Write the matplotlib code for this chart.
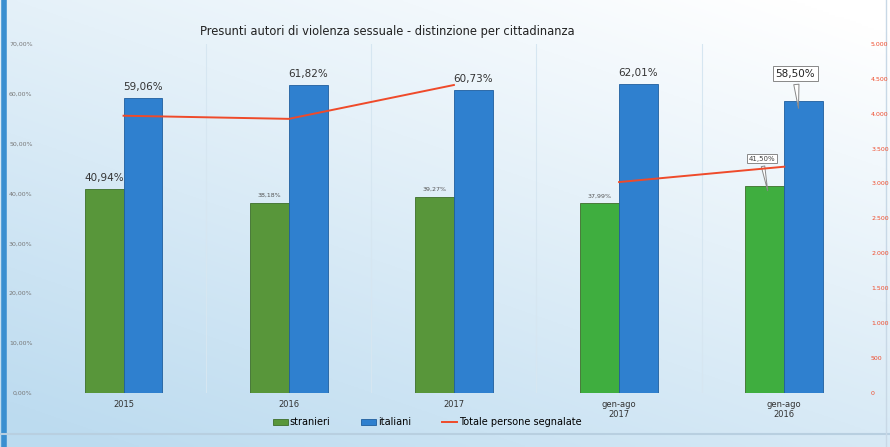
import numpy as np
import matplotlib.pyplot as plt
from matplotlib.ticker import FuncFormatter, MultipleLocator

categories = ["2015", "2016", "2017", "gen-ago\n2017", "gen-ago\n2016"]
stranieri = [40.94, 38.18, 39.27, 37.99, 41.50]
italiani = [59.06, 61.82, 60.73, 62.01, 58.50]
totale = [3970, 3925, 4410, 3020, 3240]

green_dark = "#58963a"
green_light = "#3fae3f"
blue = "#2f80cf"
red = "#ef4a2a"

fig = plt.figure(figsize=(8.9, 4.47), dpi=100)

# soft blue background wash
bg = fig.add_axes([0, 0, 1, 1], zorder=-10)
yy, xx = np.mgrid[0:1:200j, 0:1:300j]
t = np.clip(0.65 * yy + 0.45 * (1 - xx) - 0.05, 0, 1)
top = np.array([1.0, 1.0, 1.0])
bot = np.array([0.74, 0.86, 0.94])
img = top + (bot - top) * t[..., None]
bg.imshow(img, extent=[0, 1, 0, 1], aspect="auto", origin="upper")
bg.axvline(0.004, color="#3a8fd0", lw=4)
bg.axhline(0.03, color="#b8cfe0", lw=1.5)
bg.axvline(0.996, color="#c8d8e6", lw=1)
bg.set_axis_off()

ax = fig.add_axes([0.046, 0.121, 0.928, 0.781])
ax.set_facecolor("none")
x = np.arange(len(categories))
w = 0.235

g_colors = [green_dark] * 3 + [green_light] * 2
bars_s = ax.bar(x - w / 2, stranieri, w, color=g_colors, edgecolor="#3d6e2a",
                linewidth=0.6, label="stranieri", zorder=3)
bars_i = ax.bar(x + w / 2, italiani, w, color=blue, edgecolor="#1f5e9e",
                linewidth=0.6, label="italiani", zorder=3)

ax.set_xlim(-0.5, len(categories) - 0.5)
ax.set_ylim(0, 70)
ax.yaxis.set_major_locator(MultipleLocator(10))
ax.yaxis.set_major_formatter(FuncFormatter(lambda v, p: f"{v:.2f}%".replace(".", ",")))
ax.tick_params(axis="y", labelsize=4.5, colors="#777777", length=0, pad=6)
ax.tick_params(axis="x", labelsize=6, colors="#333333", length=0, pad=5)
ax.set_xticks(x)
ax.set_xticklabels(categories)
for s in ax.spines.values():
    s.set_visible(False)
for b in np.arange(0.5, len(categories) - 0.5, 1):
    ax.axvline(b, color="#d6e6f1", lw=0.8, zorder=1)


def pct(v):
    return f"{v:.2f}%".replace(".", ",")


# value labels
big = {(0, 0), (0, 1), (1, 1), (2, 1), (3, 1)}
for i in range(len(categories)):
    for j, (vals, off) in enumerate(((stranieri, -w / 2), (italiani, w / 2))):
        v = vals[i]
        if i == 4:
            continue
        if (i, j) in big:
            ax.text(x[i] + off, v + 1.2, pct(v), ha="center", va="bottom",
                    fontsize=7.5, color="#333333", zorder=5)
        else:
            ax.text(x[i] + off, v + 1.0, pct(v), ha="center", va="bottom",
                    fontsize=4.5, color="#555555", zorder=5)

# callout labels on the last group
box = dict(boxstyle="square,pad=0.25", fc="white", ec="#888888", lw=0.7)
arrow = dict(arrowstyle="wedge,tail_width=0.5", fc="white", ec="#888888", lw=0.7)
ax.annotate(pct(stranieri[4]), xy=(x[4] - w / 2 + 0.02, stranieri[4] - 1.5),
            xytext=(x[4] - w / 2 - 0.02, stranieri[4] + 5.5), ha="center", va="center",
            fontsize=5, color="#444444", bbox=box, arrowprops=arrow, zorder=6)
ax.annotate(pct(italiani[4]), xy=(x[4] + w / 2 - 0.03, italiani[4] - 2.0),
            xytext=(x[4] + w / 2 - 0.05, italiani[4] + 5.5), ha="center", va="center",
            fontsize=7.5, color="#222222", bbox=box, arrowprops=arrow, zorder=6)

ax2 = ax.twinx()
ax2.set_ylim(0, 5000)
ax2.yaxis.set_major_locator(MultipleLocator(500))
ax2.yaxis.set_major_formatter(FuncFormatter(lambda v, p: f"{int(v):,}".replace(",", ".")))
ax2.tick_params(axis="y", labelsize=4.5, colors=red, length=0, pad=3)
for s in ax2.spines.values():
    s.set_visible(False)
line, = ax2.plot(x[:3], totale[:3], color=red, lw=1.4, zorder=4,
                 label="Totale persone segnalate")
ax2.plot(x[3:], totale[3:], color=red, lw=1.4, zorder=4)

fig.text(0.225, 0.93, "Presunti autori di violenza sessuale - distinzione per cittadinanza",
         fontsize=8.3, color="#222222", ha="left", va="center")

fig.legend(handles=[bars_s, bars_i, line], loc="center", bbox_to_anchor=(0.48, 0.055),
           ncol=3, frameon=False, fontsize=7, handlelength=1.5, columnspacing=3.2,
           handletextpad=0.2)

fig.savefig("out.png", dpi=100)
